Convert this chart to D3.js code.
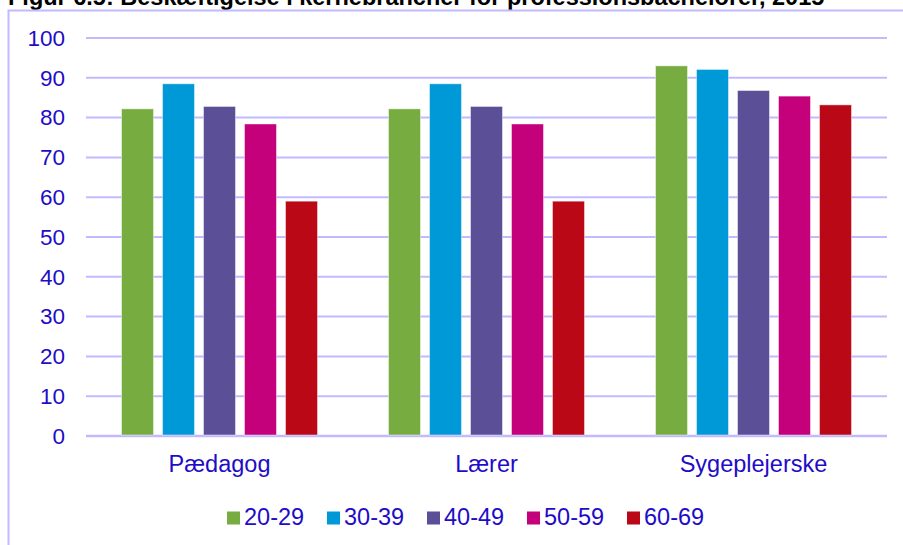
<!DOCTYPE html>
<html>
<head>
<meta charset="utf-8">
<script src="https://cdn.jsdelivr.net/npm/d3@7"></script>
<style>
  body { margin: 0; background: #fff; }
  text { font-family: "Liberation Sans", Arial, sans-serif; }
</style>
</head>
<body>
<svg id="chart"></svg>
<script>
// data
var categories = ["Pædagog", "Lærer", "Sygeplejerske"]
var ageGroups = ["20-29", "30-39", "40-49", "50-59", "60-69"]
var colors = ["#77ac40", "#0099d7", "#5b4f98", "#c4007a", "#ba0817"]
var values = [
  [82.2, 88.5, 82.8, 78.4, 59.0],
  [82.2, 88.5, 82.8, 78.4, 59.0],
  [93.0, 92.1, 86.8, 85.4, 83.2]
]
var yTicks = [0, 10, 20, 30, 40, 50, 60, 70, 80, 90, 100]
var title = "Figur 6.5: Beskæftigelse i kernebrancher for professionsbachelorer, 2015"

var screen = {width: 903, height: 545}
var textColor = "#1e0cc8"
var gridColor = "#c2baff"

var svg = d3.select("#chart")
  .attr("width", screen.width)
  .attr("height", screen.height)

// title, cut off at the top like the source
svg.append("text")
  .attr("x", 8)
  .attr("y", 5)
  .attr("font-size", 23.5)
  .attr("font-weight", "bold")
  .attr("fill", "#000")
  .text(title)

// frame around the chart
svg.append("path")
  .attr("d", "M8.5," + screen.height + "V10.5H" + screen.width)
  .attr("fill", "none")
  .attr("stroke", gridColor)
  .attr("stroke-width", 2)

var plot = {left: 86, right: 887, top: 38, bottom: 436}

var y = d3.scaleLinear()
  .domain([0, 100])
  .range([plot.bottom, plot.top])

var x0 = d3.scaleBand()
  .domain(categories)
  .range([plot.left, plot.right])
  .paddingInner(0.266)
  .paddingOuter(0.133)

var x1 = d3.scaleBand()
  .domain(ageGroups)
  .range([0, x0.bandwidth()])
  .paddingInner(0.22)
  .paddingOuter(0)

// gridlines
svg.append("g")
  .selectAll("line")
  .data(yTicks)
  .enter()
  .append("line")
  .attr("x1", plot.left)
  .attr("x2", plot.right)
  .attr("y1", function(d){ return y(d) })
  .attr("y2", function(d){ return y(d) })
  .attr("stroke", gridColor)
  .attr("stroke-width", function(d){ return d == 0 ? 2.5 : 2 })

// y tick labels
svg.append("g")
  .selectAll("text")
  .data(yTicks)
  .enter()
  .append("text")
  .attr("x", 65)
  .attr("y", function(d){ return y(d) })
  .attr("dy", "0.35em")
  .attr("text-anchor", "end")
  .attr("font-size", 22.5)
  .attr("fill", textColor)
  .text(function(d){ return d })

// bars
var groups = svg.append("g")
  .selectAll("g")
  .data(categories)
  .enter()
  .append("g")
  .attr("transform", function(d){ return "translate(" + x0(d) + ",0)" })

groups.selectAll("rect")
  .data(function(d, i){
    return ageGroups.map(function(a, j){ return {age: a, value: values[i][j], color: colors[j]} })
  })
  .enter()
  .append("rect")
  .attr("x", function(d){ return x1(d.age) })
  .attr("width", x1.bandwidth())
  .attr("y", function(d){ return y(d.value) })
  .attr("height", function(d){ return y(0) - y(d.value) - 1 })
  .attr("fill", function(d){ return d.color })
  .attr("stroke", "rgba(255,255,255,0.45)")
  .attr("stroke-width", 1)

// category labels
svg.append("g")
  .selectAll("text")
  .data(categories)
  .enter()
  .append("text")
  .attr("x", function(d){ return x0(d) + x0.bandwidth() / 2 })
  .attr("y", 472)
  .attr("text-anchor", "middle")
  .attr("font-size", 23.5)
  .attr("fill", textColor)
  .text(function(d){ return d })

// legend
var legend = svg.append("g")
  .selectAll("g")
  .data(ageGroups)
  .enter()
  .append("g")
  .attr("transform", function(d, i){ return "translate(" + (227 + i * 100) + ",0)" })

legend.append("rect")
  .attr("x", 0)
  .attr("y", 511.5)
  .attr("width", 13)
  .attr("height", 13)
  .attr("fill", function(d, i){ return colors[i] })

legend.append("text")
  .attr("x", 17)
  .attr("y", 525)
  .attr("font-size", 23.5)
  .attr("fill", textColor)
  .text(function(d){ return d })
</script>
</body>
</html>
